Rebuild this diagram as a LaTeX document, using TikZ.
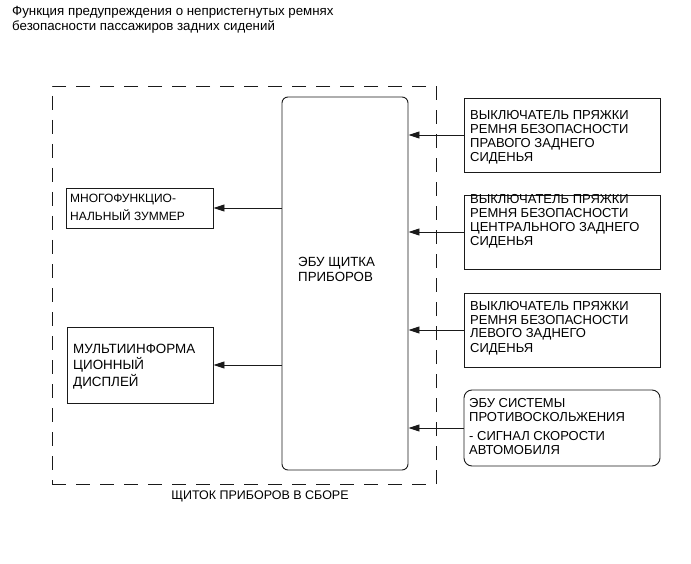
\documentclass[tikz,border=0pt]{standalone}
\usepackage{fontspec}
\setmainfont{Liberation Sans}
\usetikzlibrary{arrows.meta,positioning}
\definecolor{IPInk}{HTML}{000000}
\definecolor{IPLine}{HTML}{1A1A1A}
\tikzset{
  flow/.style={-{Triangle[length=11pt,width=7pt]},IPLine,line width=0.9pt},
  unit/.style={draw=IPLine,line width=0.9pt,inner sep=0pt},
  unitround/.style={unit,rounded corners=8pt},
  frame/.style={draw=IPLine,line width=0.9pt,dash pattern=on 14pt off 10pt,inner sep=0pt},
  boxtext/.style={text=IPInk,font=\fontsize{13}{14}\selectfont,align=left,
                  anchor=base west,inner sep=0pt},
  smalltext/.style={boxtext,font=\fontsize{12}{18}\selectfont},
  caption/.style={boxtext,font=\fontsize{13.3}{15}\selectfont},
}

\begin{document}
\begin{tikzpicture}[x=1pt,y=-1pt]
    \useasboundingbox (0,0) rectangle (691,564);
    % text nodes are placed by the baseline of their last line
    \node[caption] (title) at (12,30.5)
      {Функция предупреждения о непристегнутых ремнях\\безопасности пассажиров задних сидений};

    % combination meter with its ECU
    \node[frame,minimum width=384pt,minimum height=398pt] (meter) at (244,285) {};
    \node[boxtext,font=\fontsize{12.5}{14}\selectfont,anchor=base] (meterlbl) at (260,499) {ЩИТОК ПРИБОРОВ В СБОРЕ};
    \node[unit,rounded corners=6pt,minimum width=126pt,minimum height=373pt] (ecu) at (345,283.5) {};
    \node[boxtext,font=\fontsize{13.3}{15}\selectfont] (ecutxt) at (298,282) {ЭБУ ЩИТКА\\ПРИБОРОВ};

    % outputs
    \node[unit,minimum width=147pt,minimum height=40pt] (buzzer) at (139.5,208) {};
    \node[smalltext] (buzzertxt) at (70,221) {МНОГОФУНКЦИО-\\НАЛЬНЫЙ ЗУММЕР};
    \node[unit,minimum width=146pt,minimum height=76pt] (display) at (140,365) {};
    \node[boxtext,font=\fontsize{13.4}{16.5}\selectfont] (displaytxt) at (73,386)
      {МУЛЬТИИНФОРМА\\ЦИОННЫЙ\\ДИСПЛЕЙ};

    % inputs
    \node[unit,minimum width=196pt,minimum height=74pt] (swright) at (562,135) {};
    \node[boxtext] (swrighttxt) at (470,162)
      {ВЫКЛЮЧАТЕЛЬ ПРЯЖКИ\\РЕМНЯ БЕЗОПАСНОСТИ\\ПРАВОГО ЗАДНЕГО\\СИДЕНЬЯ};
    \node[unit,minimum width=196pt,minimum height=74pt] (swcenter) at (562,232) {};
    \node[boxtext] (swcentertxt) at (470,246)
      {ВЫКЛЮЧАТЕЛЬ ПРЯЖКИ\\РЕМНЯ БЕЗОПАСНОСТИ\\ЦЕНТРАЛЬНОГО ЗАДНЕГО\\СИДЕНЬЯ};
    \node[unit,minimum width=196pt,minimum height=74pt] (swleft) at (562,330) {};
    \node[boxtext] (swlefttxt) at (470,352)
      {ВЫКЛЮЧАТЕЛЬ ПРЯЖКИ\\РЕМНЯ БЕЗОПАСНОСТИ\\ЛЕВОГО ЗАДНЕГО\\СИДЕНЬЯ};
    \node[unitround,minimum width=196pt,minimum height=76pt] (skid) at (562,428) {};
    \node[boxtext] (skidtxt) at (469,454)
      {ЭБУ СИСТЕМЫ\\ПРОТИВОСКОЛЬЖЕНИЯ\\[5pt]- СИГНАЛ СКОРОСТИ\\АВТОМОБИЛЯ};

    \foreach \n in {swright,swcenter,swleft,skid}{
      \draw[flow] (\n.west) -- (\n.west -| ecu.east);
    }
    \foreach \n in {buzzer,display}{
      \draw[flow] (\n.east -| ecu.west) -- (\n.east);
    }
  \end{tikzpicture}
\end{document}
